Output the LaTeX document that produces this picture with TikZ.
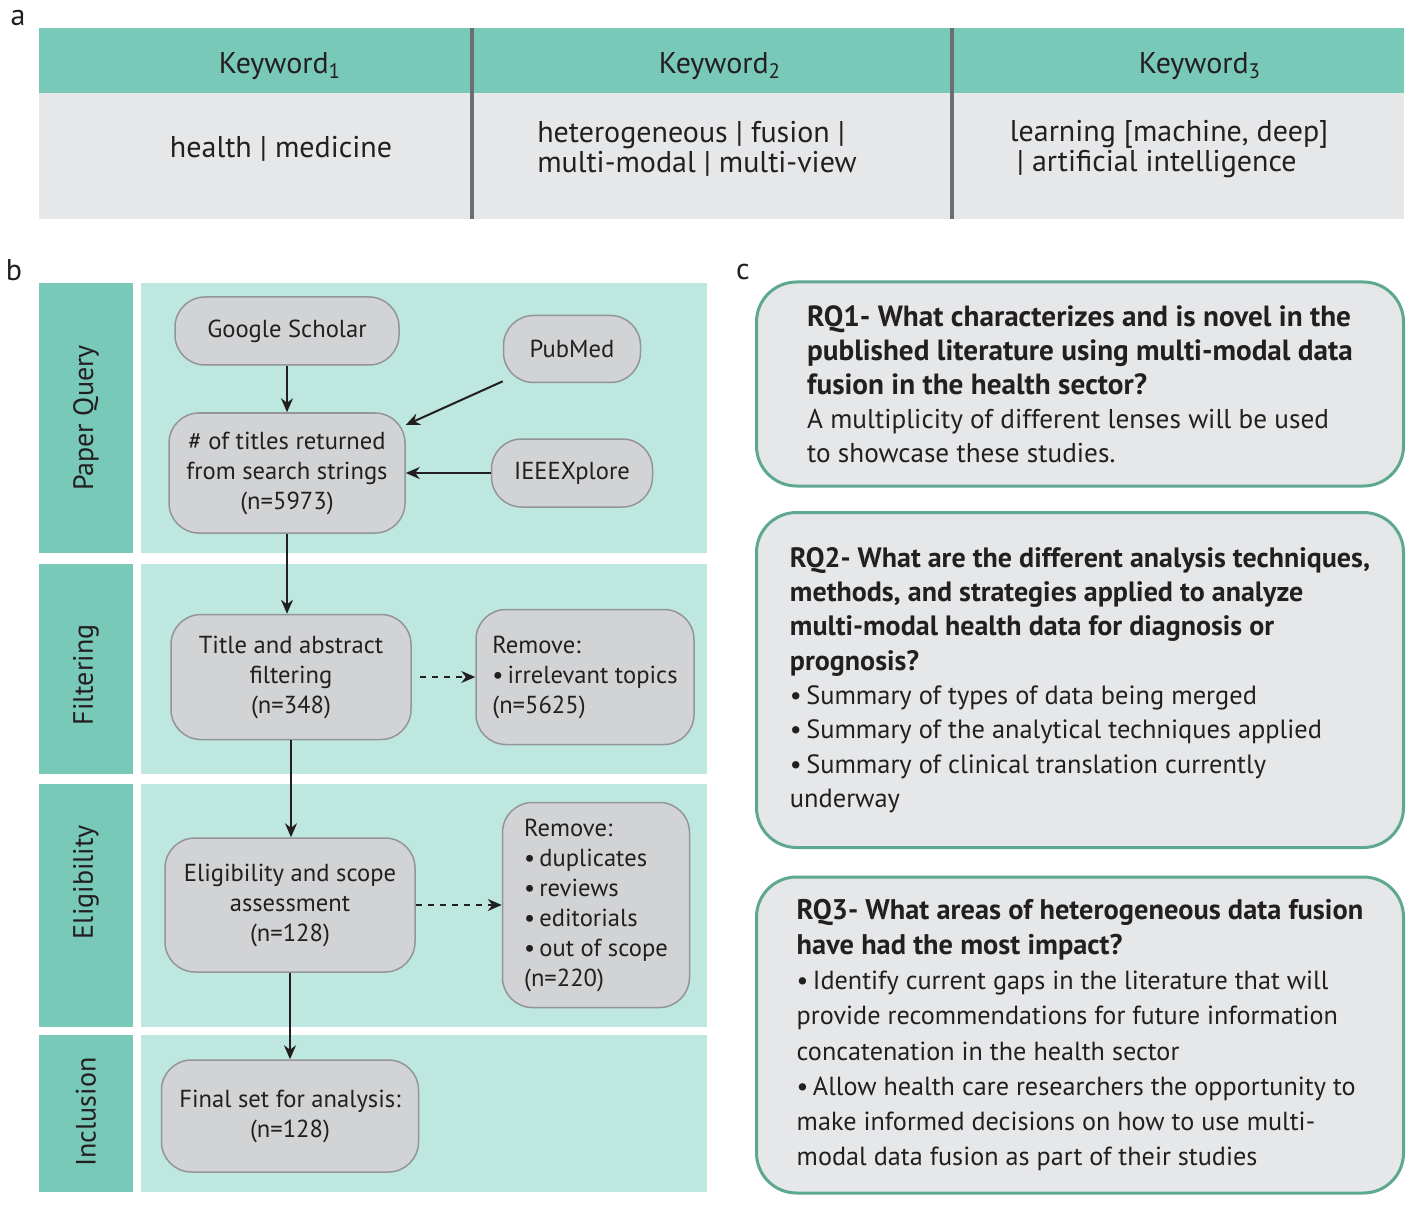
\documentclass[tikz,border=0pt]{standalone}
\usepackage{fontspec}
\setmainfont{PT Sans}
\usetikzlibrary{arrows.meta}
\definecolor{Teal}{HTML}{78C9B7}
\definecolor{LightTeal}{HTML}{BEE7DF}
\definecolor{Cell}{HTML}{E6E7E8}
\definecolor{Node}{HTML}{D1D3D4}
\definecolor{Edge}{HTML}{939598}
\definecolor{Bar}{HTML}{6D6E71}
\definecolor{Frame}{HTML}{5DA891}
\definecolor{Ink}{HTML}{231F20}
\newcommand{\qline}[2][14.2]{{\fontsize{#1}{17}\selectfont\bfseries #2}}
\newcommand{\bul}{\textbullet\,}
\begin{document}
\begin{tikzpicture}[x=0.5pt,y=-0.5pt,>={Stealth[length=7pt,width=6pt]},
box/.style={draw=Edge,line width=.75pt,fill=Node,rounded corners=15pt,
  align=center,inner sep=0pt,font=\fontsize{12.3}{15}\selectfont},
lane/.style={rotate=90,font=\fontsize{14}{16}\selectfont},
rq/.style={draw=Frame,line width=1.5pt,fill=Cell,rounded corners=20pt,
  align=left,minimum width=323.5pt,font=\fontsize{13.1}{17}\selectfont},
flow/.style={->,line width=1pt,draw=Ink},
nodes={text=Ink}]
\useasboundingbox (0,0) rectangle (1418,1208);
% a: keyword table
\fill[Teal] (39,28) rectangle (1404,93);
\fill[Cell] (39,93) rectangle (1404,219);
\draw[Bar,line width=2pt] (472,28) -- (472,219) (952,28) -- (952,219);
\path[font=\fontsize{15}{15.2}\selectfont]
(18,18) node (a) {a}
(280,66) node (k1) {Keyword\textsubscript{1}}
(720,66) node (k2) {Keyword\textsubscript{2}}
(1200,66) node (k3) {Keyword\textsubscript{3}}
(281,149) node (v1) {health | medicine}
(697,149) node[align=left] (v2) {heterogeneous | fusion |\\multi-modal | multi-view}
(1169,149) node[align=left] (v3) {learning [machine, deep]\\\hspace{3.5pt}| artificial intelligence}
;
% b: flow chart
\foreach \t/\b in {283/553,564/774,784/1027,1035/1192}{
  \fill[Teal] (39,\t) rectangle (133,\b);
  \fill[LightTeal] (141,\t) rectangle (707,\b);
}
\path[font=\fontsize{15}{15}\selectfont] (14,270) node (b) {b};
\path
(86,418) node[lane] (pq) {Paper Query}
(86,675) node[lane] (fi) {Filtering}
(86,882) node[lane] (el) {Eligibility}
(86,1112) node[lane] (in) {Inclusion}
;
\node[box,minimum width=112pt,minimum height=34pt] (gs) at (287,331) {Google Scholar};
\node[box,minimum width=68.5pt,minimum height=33.5pt] (pub) at (572,349) {PubMed};
\node[box,minimum width=118pt,minimum height=60pt] (titles) at (287,473)
  {\# of titles returned\\from search strings\\(n=5973)};
\node[box,minimum width=80.5pt,minimum height=34pt] (ieee) at (572,473) {IEEEXplore};
\node[box,minimum width=120pt,minimum height=62.5pt] (filt) at (291,677)
  {Title and abstract\\filtering\\(n=348)};
\node[box,align=left,minimum width=109pt,minimum height=67.5pt] (rem1) at (585,677)
  {Remove:\\\bul irrelevant topics\\(n=5625)};
\node[box,minimum width=125pt,minimum height=67pt] (elig) at (290,905)
  {Eligibility and scope\\assessment\\(n=128)};
\node[box,align=left,minimum width=93.5pt,minimum height=102.5pt] (rem2) at (596,905)
  {Remove:\\\bul duplicates\\\bul reviews\\\bul editorials\\\bul out of scope\\(n=220)};
\node[box,minimum width=128.5pt,minimum height=56pt] (final) at (290,1116)
  {Final set for analysis:\\(n=128)};
\draw[flow] (gs) -- (titles);
\draw[flow] (pub.205) -- (titles.22);
\draw[flow] (ieee) -- (titles);
\draw[flow] (titles.south) -- (titles.south |- filt.north);
\draw[flow] (filt.south) -- (filt.south |- elig.north);
\draw[flow] (elig) -- (final);
\draw[flow,dashed,shorten <=4pt] (filt) -- (rem1);
\draw[flow,dashed] (elig) -- (rem2);
% c: research questions
\path[font=\fontsize{15}{15}\selectfont] (743,272) node (c) {c};
\node[rq,minimum height=102pt,font=\fontsize{13.6}{17}\selectfont] (rq1) at (1080,384)
  {\qline[14.6]{RQ1- What characterizes and is novel in the}\\
   \qline[14.6]{published literature using multi-modal data}\\
   \qline[14.6]{fusion in the health sector?}\\
   A multiplicity of different lenses will be used\\
   to showcase these studies.};
\node[rq,minimum height=167.5pt,font=\fontsize{13.2}{17.15}\selectfont] (rq2) at (1080,680)
  {\qline[14]{RQ2- What are the different analysis techniques,}\\
   \qline[14]{methods, and strategies applied to analyze}\\
   \qline[14]{multi-modal health data for diagnosis or}\\
   \qline[14]{prognosis?}\\
   \bul Summary of types of data being merged\\
   \bul Summary of the analytical techniques applied\\
   \bul Summary of clinical translation currently\\
   underway};
\node[rq,minimum height=158pt,font=\fontsize{13.1}{17.57}\selectfont] (rq3) at (1080,1035)
  {\qline{RQ3- What areas of heterogeneous data fusion}\\
   \qline{have had the most impact?}\\
   \bul Identify current gaps in the literature that will\\
   provide recommendations for future information\\
   concatenation in the health sector\\
   \bul Allow health care researchers the opportunity to\\
   make informed decisions on how to use multi-\\
   modal data fusion as part of their studies};
\end{tikzpicture}
\end{document}
